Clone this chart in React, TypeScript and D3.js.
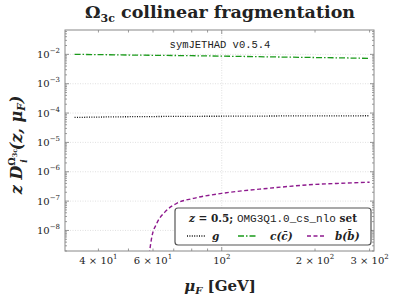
import React, { useEffect, useRef } from 'react';
import * as d3 from 'd3';

// mu_F [GeV] grid shared by g and c lines
const muGrid = [33.5, 40, 50, 60, 70, 80, 100, 120, 150, 200, 250, 300];
// z D_g
const gluonValues = [7.1e-5, 7.3e-5, 7.5e-5, 7.6e-5, 7.7e-5, 7.75e-5, 7.8e-5, 7.85e-5, 7.95e-5, 8.0e-5, 8.05e-5, 8.1e-5];
// z D_c(cbar)
const charmValues = [1.0e-2, 9.8e-3, 9.5e-3, 9.3e-3, 9.15e-3, 9.0e-3, 8.7e-3, 8.45e-3, 8.15e-3, 7.8e-3, 7.55e-3, 7.3e-3];
// b(bbar) starts above threshold
const muBottom = [58.3, 59.5, 61.7, 65.6, 71.6, 81, 100, 140, 200, 250, 300];
const bottomValues = [1.5e-9, 6.1e-9, 1.74e-8, 4.3e-8, 8.4e-8, 1.24e-7, 1.83e-7, 2.7e-7, 3.7e-7, 4.1e-7, 4.4e-7];

const yTicks = [-8, -7, -6, -5, -4, -3, -2];
const xTickLabels = [
  { v: 40, m: '4 × 10', e: '1' },
  { v: 60, m: '6 × 10', e: '1' },
  { v: 100, m: '10', e: '2' },
  { v: 200, m: '2 × 10', e: '2' },
  { v: 300, m: '3 × 10', e: '2' },
];

const W = 395;
const H = 299;
const M = { left: 65, top: 30, right: 21, bottom: 48 };

export default function App() {
  const ref = useRef<SVGSVGElement>(null);

  useEffect(() => {
    const svg = d3.select(ref.current);
    svg.selectAll('*').remove();

    const x = d3.scaleLog().domain([31.2, 310]).range([M.left, W - M.right]);
    const y = d3.scaleLog().domain([Math.pow(10, -8.7), Math.pow(10, -1.17)]).range([H - M.bottom, M.top]);
    const x0 = M.left, x1 = W - M.right, y0 = H - M.bottom, y1 = M.top;

    svg.append('rect').attr('width', W).attr('height', H).attr('fill', 'white');

    svg.append('defs').append('clipPath').attr('id', 'clip')
      .append('rect').attr('x', x0).attr('y', y1).attr('width', x1 - x0).attr('height', y0 - y1);

    // grid
    const grid = svg.append('g').attr('stroke', '#ccc').attr('stroke-width', 0.6).attr('stroke-dasharray', '1,1.5');
    yTicks.forEach(e => {
      grid.append('line').attr('x1', x0).attr('x2', x1).attr('y1', y(Math.pow(10, e))).attr('y2', y(Math.pow(10, e)));
    });
    grid.append('line').attr('x1', x(100)).attr('x2', x(100)).attr('y1', y1).attr('y2', y0);

    // ticks on all sides
    const tk = svg.append('g').attr('stroke', '#555').attr('stroke-width', 0.6);
    for (let e = -9; e <= -1; e++) {
      for (let k = 1; k <= 9; k++) {
        const v = k * Math.pow(10, e);
        const yy = y(v);
        if (yy < y1 || yy > y0) continue;
        const len = k === 1 ? 4 : 2;
        tk.append('line').attr('x1', x0).attr('x2', x0 + len).attr('y1', yy).attr('y2', yy);
        tk.append('line').attr('x1', x1).attr('x2', x1 - len).attr('y1', yy).attr('y2', yy);
      }
    }
    [40, 50, 60, 70, 80, 90, 100, 200, 300].forEach(v => {
      const xx = x(v);
      const len = v === 100 ? 4 : 2.5;
      tk.append('line').attr('x1', xx).attr('x2', xx).attr('y1', y0).attr('y2', y0 - len);
      tk.append('line').attr('x1', xx).attr('x2', xx).attr('y1', y1).attr('y2', y1 + len);
    });

    const plot = svg.append('g').attr('clip-path', 'url(#clip)');
    const line = d3.line<[number, number]>().x(d => x(d[0])).y(d => y(d[1])).curve(d3.curveMonotoneX);

    plot.append('path').datum(muGrid.map((m, i) => [m, gluonValues[i]] as [number, number]))
      .attr('d', line).attr('fill', 'none').attr('stroke', '#111').attr('stroke-width', 1.3)
      .attr('stroke-dasharray', '1,1.4');
    plot.append('path').datum(muGrid.map((m, i) => [m, charmValues[i]] as [number, number]))
      .attr('d', line).attr('fill', 'none').attr('stroke', '#1a9a1a').attr('stroke-width', 1.3)
      .attr('stroke-dasharray', '6,2,1.5,2');
    plot.append('path').datum(muBottom.map((m, i) => [m, bottomValues[i]] as [number, number]))
      .attr('d', line).attr('fill', 'none').attr('stroke', '#8e1a8e').attr('stroke-width', 1.4)
      .attr('stroke-dasharray', '4,2.5');

    // frame
    svg.append('rect').attr('x', x0).attr('y', y1).attr('width', x1 - x0).attr('height', y0 - y1)
      .attr('fill', 'none').attr('stroke', '#888').attr('stroke-width', 1);

    // y tick labels
    const serif = "'DejaVu Serif', serif";
    yTicks.forEach(e => {
      const t = svg.append('text').attr('x', 60).attr('y', y(Math.pow(10, e)) + 3.5)
        .attr('text-anchor', 'end').attr('font-family', serif).attr('font-size', 10).attr('fill', '#222');
      t.append('tspan').text('10');
      t.append('tspan').attr('dy', -5).attr('font-size', 7).text('−' + -e);
    });

    // x tick labels
    xTickLabels.forEach(d => {
      const t = svg.append('text').attr('x', x(d.v)).attr('y', y0 + 13)
        .attr('text-anchor', 'middle').attr('font-family', serif).attr('font-size', 10).attr('fill', '#222');
      t.append('tspan').text(d.m);
      t.append('tspan').attr('dy', -5).attr('font-size', 7).text(d.e);
    });

    // title
    const title = svg.append('text').attr('x', 220).attr('y', 18).attr('text-anchor', 'middle')
      .attr('font-family', serif).attr('font-weight', 'bold').attr('font-size', 17.5).attr('fill', '#222');
    title.append('tspan').text('Ω');
    title.append('tspan').attr('dy', 3.5).attr('font-size', 11).text('3c');
    title.append('tspan').attr('dy', -3.5).text(' collinear fragmentation');

    svg.append('text').attr('x', 220).attr('y', 48).attr('text-anchor', 'middle')
      .attr('font-family', "'Liberation Mono', monospace").attr('font-size', 10.5).attr('fill', '#222')
      .text('symJETHAD v0.5.4');

    // x label
    const xl = svg.append('text').attr('x', 220).attr('y', 291).attr('text-anchor', 'middle')
      .attr('font-family', serif).attr('font-weight', 'bold').attr('font-size', 15).attr('fill', '#222');
    xl.append('tspan').attr('font-style', 'italic').text('μ');
    xl.append('tspan').attr('dy', 3).attr('font-size', 10).attr('font-style', 'italic').text('F');
    xl.append('tspan').attr('dy', -3).text(' [GeV]');

    // y label
    const yl = svg.append('text').attr('transform', 'translate(22,145) rotate(-90)').attr('text-anchor', 'middle')
      .attr('font-family', serif).attr('font-weight', 'bold').attr('font-style', 'italic').attr('font-size', 16).attr('fill', '#222');
    yl.append('tspan').text('z D');
    yl.append('tspan').attr('dy', -7).attr('font-size', 9.5).attr('font-style', 'normal').text('Ω');
    yl.append('tspan').attr('dy', 2).attr('font-size', 6.5).attr('font-style', 'normal').text('3c');
    yl.append('tspan').attr('dx', -14).attr('dy', 10).attr('font-size', 9).text('i');
    yl.append('tspan').attr('dx', 9).attr('dy', -5).text('(z, μ');
    yl.append('tspan').attr('dy', 3).attr('font-size', 10.5).text('F');
    yl.append('tspan').attr('dy', -3).text(')');

    // legend
    const lg = svg.append('g');
    lg.append('rect').attr('x', 175).attr('y', 208).attr('width', 196).attr('height', 37).attr('rx', 3)
      .attr('fill', 'white').attr('stroke', '#555').attr('stroke-width', 1.2);
    const lt = lg.append('text').attr('x', 273).attr('y', 222).attr('text-anchor', 'middle')
      .attr('font-size', 10.5).attr('fill', '#222');
    lt.append('tspan').attr('font-family', serif).attr('font-style', 'italic').attr('font-weight', 'bold').text('z');
    lt.append('tspan').attr('font-family', serif).attr('font-weight', 'bold').text(' = 0.5; ');
    lt.append('tspan').attr('font-family', "'Liberation Mono', monospace").attr('font-size', 11).text('OMG3Q1.0_cs_nlo');
    lt.append('tspan').attr('font-family', serif).attr('font-weight', 'bold').text(' set');

    const entries = [
      { x: 187, color: '#111', dash: '1,1.4', label: 'g', lx: 212 },
      { x: 238, color: '#1a9a1a', dash: '6,2,1.5,2', label: 'c(c̄)', lx: 270 },
      { x: 307, color: '#8e1a8e', dash: '4,2.5', label: 'b(b̄)', lx: 335 },
    ];
    entries.forEach(d => {
      lg.append('line').attr('x1', d.x).attr('x2', d.x + 19).attr('y1', 236).attr('y2', 236)
        .attr('stroke', d.color).attr('stroke-width', 1.3).attr('stroke-dasharray', d.dash);
      lg.append('text').attr('x', d.lx).attr('y', 240).attr('font-family', serif).attr('font-style', 'italic')
        .attr('font-weight', 'bold').attr('font-size', 10.5).attr('fill', '#222').text(d.label);
    });
  }, []);

  return (
    <svg ref={ref} width={W} height={H} style={{ position: 'absolute', left: 0, top: 0 }} />
  );
}
